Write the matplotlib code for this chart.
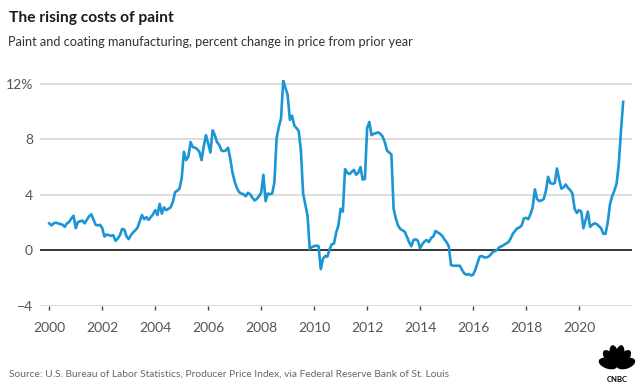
import numpy as np
import matplotlib
matplotlib.use("Agg")
import matplotlib.pyplot as plt
from matplotlib.patches import Ellipse
from matplotlib import font_manager

# percent change from prior year, monthly, Jan 2000 .. Sep 2021
pct_change = [
    1.95, 1.8, 1.95, 2.0, 1.95, 1.9, 1.85, 1.7, 1.95, 2.05, 2.3, 2.5,      # 2000
    1.6, 2.05, 2.1, 2.15, 1.95, 2.2, 2.45, 2.6, 2.25, 1.85, 1.8, 1.85,     # 2001
    1.6, 1.0, 1.15, 1.1, 1.05, 1.1, 0.7, 0.85, 1.1, 1.55, 1.5, 1.0,        # 2002
    0.82, 1.1, 1.3, 1.45, 1.65, 2.1, 2.55, 2.25, 2.4, 2.2, 2.4, 2.6,       # 2003
    2.9, 2.55, 3.35, 2.65, 3.1, 2.9, 3.0, 3.1, 3.5, 4.2, 4.3, 4.45,        # 2004
    5.2, 7.1, 6.5, 6.75, 7.8, 7.45, 7.4, 7.3, 7.1, 6.5, 7.5, 8.3,          # 2005
    7.7, 7.05, 8.65, 8.3, 7.8, 7.6, 7.2, 7.15, 7.2, 7.4, 6.6, 5.6,         # 2006
    4.95, 4.5, 4.2, 4.1, 4.05, 3.9, 4.15, 4.05, 3.8, 3.6, 3.7, 3.9,        # 2007
    4.15, 5.45, 3.55, 4.1, 4.05, 4.1, 4.9, 8.1, 8.9, 9.5, 12.25, 11.7,     # 2008
    11.2, 9.4, 9.7, 9.0, 8.8, 8.6, 7.2, 4.1, 3.3, 2.5, 0.1, 0.25,          # 2009
    0.3, 0.35, 0.3, -1.35, -0.6, -0.4, -0.45, 0.1, 0.45, 0.5, 1.3, 1.8,    # 2010
    3.0, 2.8, 5.85, 5.6, 5.5, 5.65, 5.8, 5.45, 5.6, 6.0, 5.1, 5.15,        # 2011
    8.8, 9.25, 8.3, 8.4, 8.45, 8.5, 8.4, 8.2, 7.8, 7.2, 7.05, 6.9,         # 2012
    3.0, 2.3, 1.8, 1.55, 1.45, 1.35, 1.0, 0.6, 0.3, 0.75, 0.8, 0.7,        # 2013
    0.15, 0.45, 0.65, 0.75, 0.6, 0.9, 1.0, 1.4, 1.3, 1.2, 1.05, 0.8,       # 2014
    0.6, 0.3, -1.05, -1.1, -1.1, -1.1, -1.1, -1.4, -1.65, -1.75, -1.7, -1.8,  # 2015
    -1.75, -1.4, -0.9, -0.45, -0.4, -0.5, -0.5, -0.45, -0.3, -0.1, -0.05, 0.05,  # 2016
    0.25, 0.3, 0.4, 0.5, 0.6, 0.85, 1.2, 1.4, 1.6, 1.65, 1.8, 2.3,         # 2017
    2.35, 2.25, 2.6, 3.1, 4.4, 3.7, 3.55, 3.6, 3.7, 4.3, 5.3, 4.85,        # 2018
    4.8, 4.85, 5.9, 5.1, 4.45, 4.55, 4.75, 4.5, 4.35, 4.1, 3.0, 2.7,       # 2019
    2.9, 2.8, 1.6, 2.2, 2.8, 1.7, 1.85, 1.95, 1.9, 1.75, 1.6, 1.2,         # 2020
    1.2, 2.0, 3.3, 3.9, 4.3, 4.8, 6.2, 8.6, 10.7,                          # 2021
]
start_year = 2000
year_ticks = [2000, 2002, 2004, 2006, 2008, 2010, 2012, 2014, 2016, 2018, 2020]
y_ticks = [-4, 0, 4, 8, 12]
y_labels = ["\u22124", "0", "4", "8", "12%"]

plt.rcParams["font.family"] = ["Lato", "DejaVu Sans"]

# narrow face for the source line if there is one
installed = {f.name for f in font_manager.fontManager.ttflist}
if "Liberation Sans Narrow" in installed:
    src_family, src_size = ["Liberation Sans Narrow", "Lato"], 9.6
else:
    src_family, src_size = ["Lato", "DejaVu Sans"], 7.4

x = start_year + np.arange(len(pct_change)) / 12

fig = plt.figure(figsize=(6.4, 3.91), dpi=100)
ax = fig.add_axes([0.0625, 0.2174, 0.925, 0.579])

for v in [-4, 4, 8, 12]:
    ax.axhline(v, color="#d3d3d3", lw=1.1, zorder=1)
ax.axhline(0, color="black", lw=1.1, zorder=2)
ax.plot(x, pct_change, color="#1b95d3", lw=1.9, zorder=3, solid_joinstyle="round")

ax.set_xlim(1999.65, 2022.0)
ax.set_ylim(-4, 12.3)
for s in ax.spines.values():
    s.set_visible(False)

ax.set_xticks(year_ticks)
ax.set_xticklabels([str(y) for y in year_ticks])
ax.set_yticks(y_ticks)
ax.set_yticklabels(y_labels)
ax.tick_params(axis="x", direction="out", length=3, width=1, color="#444444",
               pad=8.5, labelsize=10, labelcolor="#555555")
ax.tick_params(axis="y", length=0, pad=5, labelsize=10, labelcolor="#555555")

fig.text(0.014, 0.955, "The rising costs of paint", fontsize=11.2,
         fontweight="bold", color="#1a1a1a", va="center")
fig.text(0.013, 0.893, "Paint and coating manufacturing, percent change in price from prior year",
         fontsize=9.2, color="#333333", va="center")
fig.text(0.014, 0.043, "Source: U.S. Bureau of Labor Statistics, Producer Price Index, via Federal Reserve Bank of St. Louis",
         fontsize=src_size, family=src_family, color="#666666", va="center")

# small peacock logo bottom right
lax = fig.add_axes([0.935, 0.015, 0.058, 0.105])
lax.set_xlim(-1, 1)
lax.set_ylim(-0.75, 1.15)
lax.axis("off")
for ang in np.linspace(15, 165, 6):
    r = np.deg2rad(ang)
    lax.add_patch(Ellipse((0.5 * np.cos(r), 0.12 + 0.5 * np.sin(r)), 0.42, 0.95,
                          angle=ang - 90, color="black"))
lax.text(0, -0.47, "CNBC", ha="center", va="center", fontsize=5.5,
         fontweight="bold", color="black")

fig.savefig("out.png", dpi=100)
